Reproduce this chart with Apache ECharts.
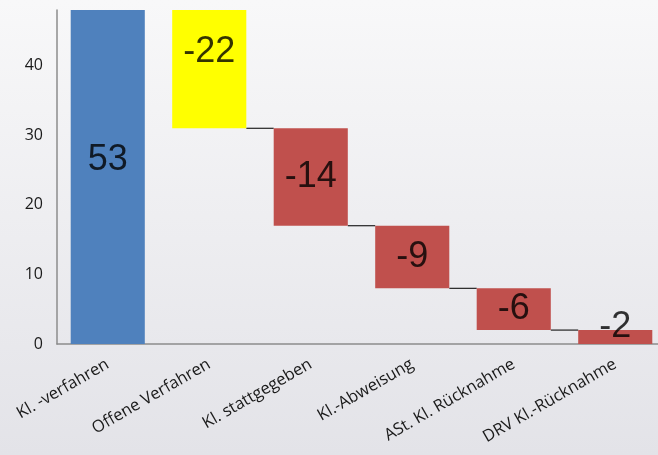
<!DOCTYPE html>
<html><head><meta charset="utf-8">
<script src="https://cdn.jsdelivr.net/npm/echarts@6/dist/echarts.min.js"></script>
<style>html,body{margin:0;padding:0;}#c{width:658px;height:455px;}</style>
</head><body><div id="c"></div>
<script>
const categories = ['Kl. -verfahren', 'Offene Verfahren', 'Kl. stattgegeben', 'Kl.-Abweisung', 'ASt. Kl. Rücknahme', 'DRV Kl.-Rücknahme'];
const values = [53, -22, -14, -9, -6, -2];
const barColors = ['#4f81bd', '#ffff00', '#c0504d', '#c0504d', '#c0504d', '#c0504d'];
const yTicks = [0, 10, 20, 30, 40];

// waterfall geometry derived from values
const bases = [], heights = [], levels = [];
let run = 0;
values.forEach((v, i) => {
  if (i === 0) { bases.push(0); heights.push(v); run = v; }
  else { run += v; bases.push(run); heights.push(-v); }
  levels.push(run);
});
const mids = bases.map((b, i) => b + heights[i] / 2);
const connectors = [];
for (let i = 0; i < values.length - 1; i++) connectors.push([i, levels[i]]);

const chart = echarts.init(document.getElementById('c'));
chart.setOption({
  animation: false,
  backgroundColor: new echarts.graphic.LinearGradient(0, 0, 0, 1, [
    {offset: 0, color: '#f8f8f9'}, {offset: 1, color: '#e3e3e8'}
  ]),
  grid: {left: 57, top: 10, width: 609, height: 334, outerBoundsMode: 'none', containLabel: false},
  xAxis: {
    type: 'category', data: categories,
    axisLine: {lineStyle: {color: '#8c8c8c', width: 1.5}},
    axisTick: {show: false},
    axisLabel: {rotate: 30, interval: 0, margin: 19, fontSize: 16.5, color: '#1a1a1a', fontFamily: 'Open Sans'}
  },
  yAxis: {
    type: 'value', min: 0, max: 48, interval: 10,
    axisLine: {show: true, lineStyle: {color: '#8c8c8c', width: 1.5}},
    axisTick: {show: false},
    splitLine: {show: false},
    axisLabel: {fontSize: 16, color: '#1a1a1a', margin: 14, fontFamily: 'Open Sans',
      formatter: v => yTicks.includes(v) ? String(v) : ''}
  },
  series: [
    {type: 'bar', stack: 'w', barWidth: '73%', data: bases, itemStyle: {color: 'transparent'}, silent: true},
    {type: 'bar', stack: 'w', barWidth: '73%', clip: true,
      data: heights.map((h, i) => ({value: h, itemStyle: {color: barColors[i]}}))},
    {type: 'scatter', symbolSize: 0, silent: true,
      data: mids.map((m, i) => ({value: [i, m],
        label: {show: true, position: 'inside', formatter: String(values[i]),
          offset: i === values.length - 1 ? [0, -10] : [0, 0]}})),
      label: {fontSize: 36, color: '#000', fontFamily: 'Liberation Sans'}},
    {type: 'custom', silent: true, clip: true, data: connectors,
      renderItem: (params, api) => {
        const i = api.value(0), lv = api.value(1);
        const p1 = api.coord([i, lv]), p2 = api.coord([i + 1, lv]);
        const bw = api.size([1, 0])[0] * 0.73;
        return {type: 'line', shape: {x1: p1[0] + bw / 2, y1: p1[1], x2: p2[0] - bw / 2, y2: p2[1]},
          style: {stroke: '#222', lineWidth: 1.2}};
      }}
  ]
});
</script></body></html>
